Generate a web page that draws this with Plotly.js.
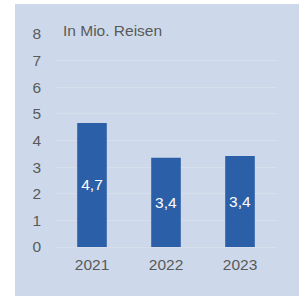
<!DOCTYPE html>
<html>
<head>
<meta charset="utf-8">
<script src="https://cdn.plot.ly/plotly-3.0.1.min.js"></script>
<style>
html,body{margin:0;padding:0;background:#ffffff;width:299px;height:296px;overflow:hidden;}
#panel{position:absolute;left:15px;top:4px;width:284px;height:292px;}
</style>
</head>
<body>
<div id="panel"></div>
<script>
const years = ["2021", "2022", "2023"];
const trips = [4.66, 3.35, 3.42];
const labels = ["4,7", "3,4", "3,4"];
const yTicks = [0, 1, 2, 3, 4, 5, 6, 7, 8];

const font = {family: "Liberation Sans, Arial, sans-serif", size: 15.5, color: "#595959"};

Plotly.newPlot("panel", [{
  type: "bar",
  x: years,
  y: trips,
  text: labels,
  textposition: "inside",
  insidetextanchor: "middle",
  textfont: {family: "Liberation Sans, Arial, sans-serif", size: 15.5, color: "#ffffff"},
  marker: {color: "#2b5fa7", line: {width: 0}},
  hoverinfo: "none"
}], {
  width: 284,
  height: 292,
  margin: {l: 40, r: 22, t: 30, b: 49},
  paper_bgcolor: "#cdd9ea",
  plot_bgcolor: "#cdd9ea",
  bargap: 0.6,
  showlegend: false,
  font: font,
  xaxis: {
    type: "category",
    tickfont: font,
    showgrid: false,
    zeroline: false,
    showline: false,
    ticks: "",
    ticklabelstandoff: 6
  },
  yaxis: {
    range: [0, 8],
    tickvals: yTicks,
    ticktext: yTicks.map(String),
    tickfont: font,
    showgrid: true,
    gridcolor: "#d8dfec",
    gridwidth: 1,
    zeroline: true,
    zerolinecolor: "#d8dfec",
    zerolinewidth: 1,
    showline: false,
    ticks: "",
    ticklabelstandoff: 13
  },
  annotations: [{
    text: "In Mio. Reisen",
    xref: "paper", yref: "paper",
    x: 0.036, y: 1,
    xanchor: "left", yanchor: "middle",
    xshift: -2,
    yshift: 4,
    showarrow: false,
    font: font
  }]
}, {staticPlot: true, displayModeBar: false});
</script>
</body>
</html>
